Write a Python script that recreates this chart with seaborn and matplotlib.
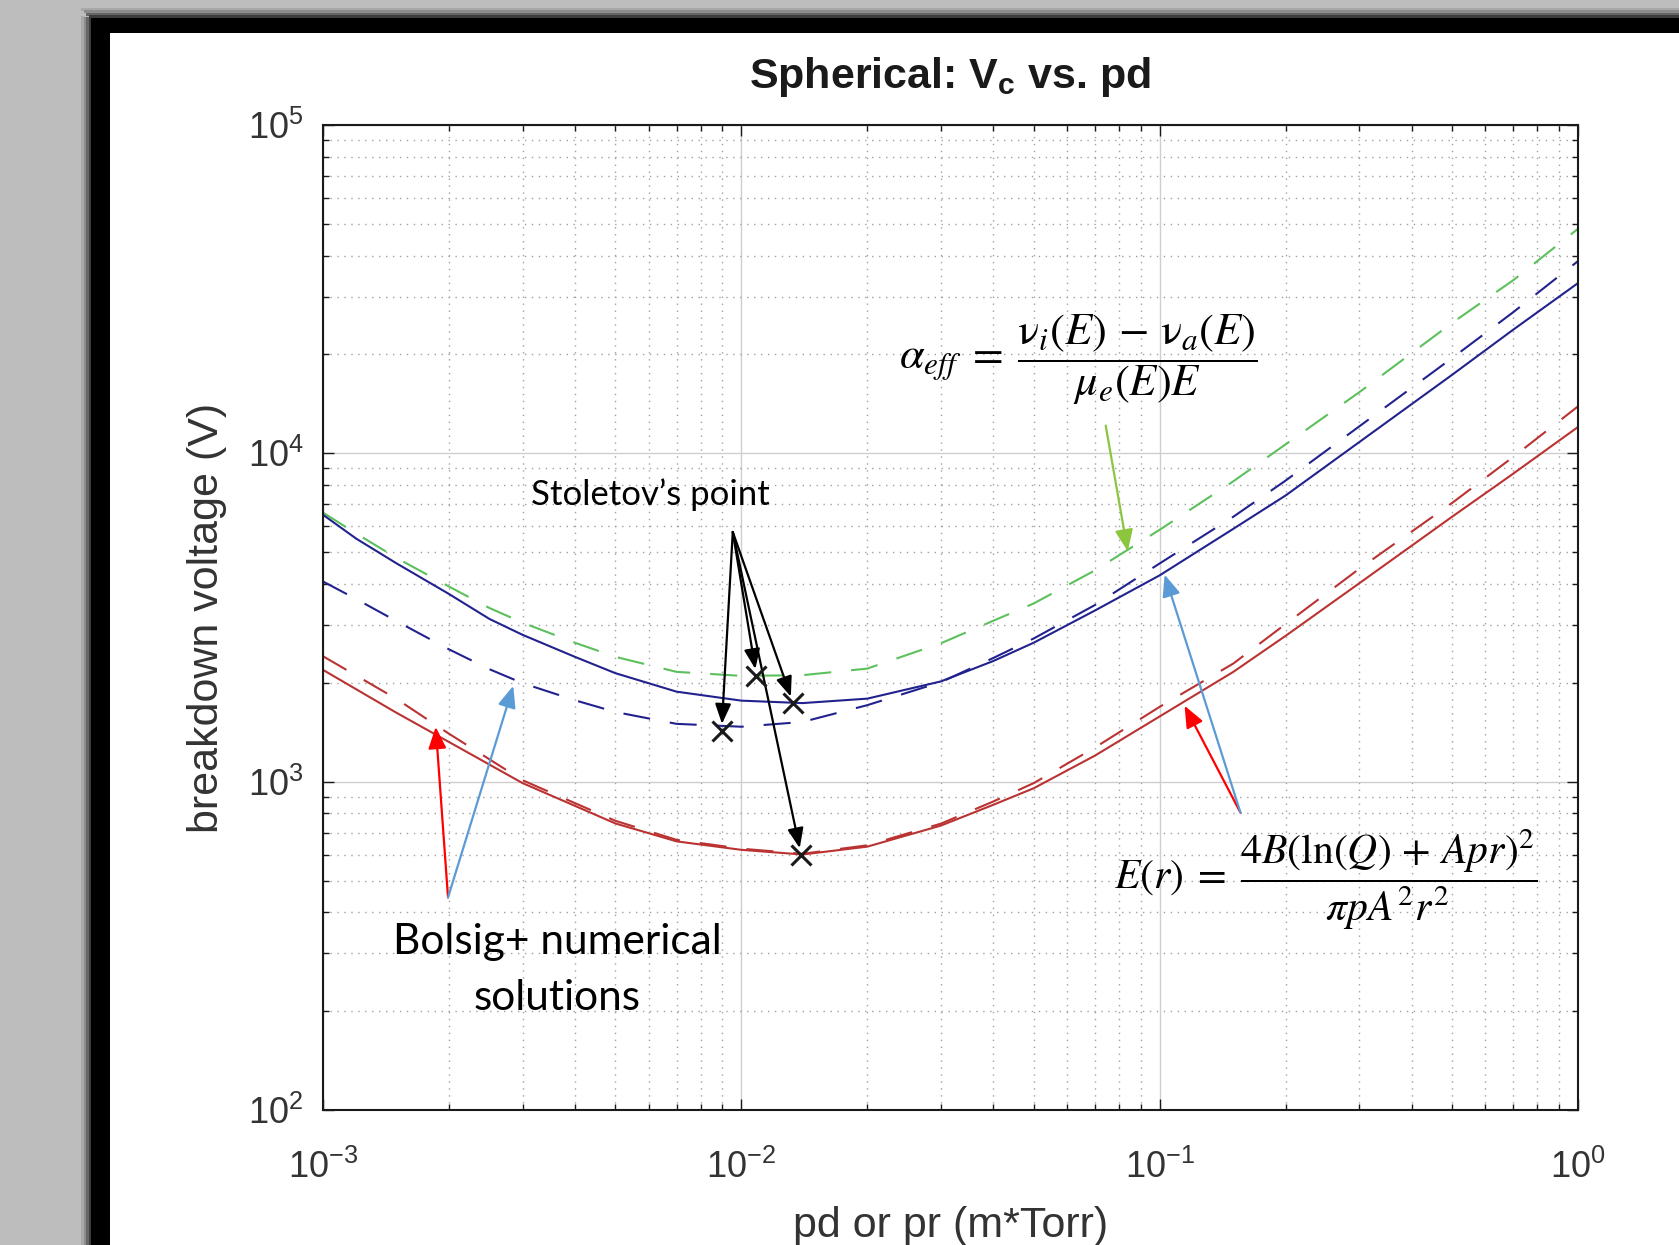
import numpy as np
import seaborn as sns
import matplotlib.pyplot as plt
from matplotlib.patches import Rectangle
from matplotlib.ticker import LogLocator, FuncFormatter, NullFormatter

pd_bg = [0.001, 0.0012, 0.0015, 0.002, 0.0025, 0.003, 0.004, 0.005, 0.007, 0.01,
         0.014, 0.02, 0.03, 0.04, 0.05, 0.07, 0.1, 0.15, 0.2, 0.3, 0.5, 0.7, 1.0]
# breakdown voltage (V)
blue_solid = [6500, 5500, 4620, 3730, 3130, 2800, 2400, 2140, 1880, 1765,
              1735, 1790, 2020, 2330, 2650, 3320, 4250, 5890, 7440, 10820,
              17340, 23800, 33000]
blue_dash = [4070, 3600, 3080, 2530, 2200, 1995, 1770, 1630, 1500, 1470,
             1520, 1710, 2010, 2380, 2730, 3450, 4620, 6410, 8260, 12080,
             19500, 26900, 38500]
green_dash = [6600, 5700, 4800, 3930, 3380, 3050, 2650, 2400, 2160, 2100,
              2110, 2210, 2640, 3090, 3490, 4400, 5850, 8220, 10650, 15350,
              24950, 33670, 48300]

pd_red = [0.001, 0.0015, 0.002, 0.003, 0.005, 0.007, 0.01, 0.014, 0.02, 0.03,
          0.04, 0.05, 0.07, 0.1, 0.15, 0.2, 0.3, 0.5, 0.7, 1.0]
red_solid = [2190, 1620, 1321, 990, 746, 658, 620, 600, 634, 735,
             850, 955, 1200, 1580, 2160, 2780, 4020, 6410, 8670, 12030]
red_dash = [2410, 1785, 1400, 1010, 760, 665, 625, 603, 640, 745,
            870, 990, 1270, 1690, 2290, 3020, 4450, 7060, 9750, 13900]

# Stoletov's points (minimum of each curve)
stol_x = [0.00897, 0.01087, 0.0133, 0.0139]
stol_y = [1429, 2100, 1734, 598]

# annotation anchors, in data units
stol_from = (0.00954, 5760)
bolsig_from = (0.00199, 444)
bolsig_red_tip = (0.00186, 1468)
bolsig_blue_tip = (0.00285, 1958)
alpha_from = (0.0743, 12150)
alpha_tip = (0.0839, 5030)
er_from = (0.156, 805)
er_red_tip = (0.1147, 1703)
er_blue_tip = (0.1028, 4270)

W, H = 1679, 1245


def fx(px):
    return px / W


def fy(py):
    return 1 - py / H


def main():
    sns.set_style("ticks")
    plt.rcParams['font.family'] = ['Liberation Sans', 'DejaVu Sans']
    plt.rcParams['mathtext.fontset'] = 'custom'
    plt.rcParams['mathtext.rm'] = 'Liberation Sans'
    plt.rcParams['mathtext.bf'] = 'Liberation Sans:bold'
    plt.rcParams['mathtext.it'] = 'Liberation Sans:italic'

    fig = plt.figure(figsize=(W / 100, H / 100), dpi=100)
    fig.patch.set_facecolor('white')

    # screenshot window frame
    fig.add_artist(Rectangle((0, 0), fx(91), 1, transform=fig.transFigure,
                             color='#bdbdbd', lw=0, zorder=-5))
    fig.add_artist(Rectangle((0, fy(16)), 1, 16 / H, transform=fig.transFigure,
                             color='#bdbdbd', lw=0, zorder=-5))
    shades = ['#a8a8a8', '#8c8c8c', '#666666', '#3c3c3c']
    for i, c in enumerate(shades):
        fig.add_artist(Rectangle((fx(81 + 2.5 * i), 0), fx(2.5), fy(16 + i * 0.5),
                                 transform=fig.transFigure, color=c, lw=0, zorder=-4))
        fig.add_artist(Rectangle((fx(81 + 2.5 * i), fy(8 + 2.5 * i + 2.5)), 1, 2.5 / H,
                                 transform=fig.transFigure, color=c, lw=0, zorder=-4))
    fig.add_artist(Rectangle((fx(91), 0), fx(19), fy(18), transform=fig.transFigure,
                             color='black', lw=0, zorder=-3))
    fig.add_artist(Rectangle((fx(91), fy(33)), 1, 15 / H, transform=fig.transFigure,
                             color='black', lw=0, zorder=-3))

    ax = fig.add_axes([fx(323), fy(1110), (1578 - 323) / W, (1110 - 125) / H])
    ax.set_facecolor('white')
    ax.set_xscale('log')
    ax.set_yscale('log')

    lw = 1.5
    dash = (0, (13, 9.6))
    sns.lineplot(x=pd_bg, y=green_dash, ax=ax, color='#5cc05c', lw=lw, linestyle=dash)
    sns.lineplot(x=pd_bg, y=blue_dash, ax=ax, color='#22228f', lw=lw, linestyle=dash)
    sns.lineplot(x=pd_bg, y=blue_solid, ax=ax, color='#22228f', lw=lw)
    sns.lineplot(x=pd_red, y=red_dash, ax=ax, color='#bb3232', lw=lw, linestyle=dash)
    sns.lineplot(x=pd_red, y=red_solid, ax=ax, color='#bb3232', lw=lw)
    ax.plot(stol_x, stol_y, linestyle='none', marker='x', ms=14, mew=2.2,
            color='#1a1a1a', zorder=5)

    ax.set_xlim(1e-3, 1)
    ax.set_ylim(1e2, 1e5)

    ax.xaxis.set_major_locator(LogLocator(base=10, numticks=10))
    ax.yaxis.set_major_locator(LogLocator(base=10, numticks=10))
    ax.xaxis.set_minor_locator(LogLocator(base=10, subs=np.arange(2, 10), numticks=20))
    ax.yaxis.set_minor_locator(LogLocator(base=10, subs=np.arange(2, 10), numticks=20))
    fmt = FuncFormatter(lambda v, p: r'$\mathregular{10^{%d}}$' % round(np.log10(v)))
    ax.xaxis.set_major_formatter(fmt)
    ax.yaxis.set_major_formatter(fmt)
    ax.xaxis.set_minor_formatter(NullFormatter())
    ax.yaxis.set_minor_formatter(NullFormatter())

    ax.grid(True, which='major', color='#cfcfcf', lw=1.0, ls='-')
    ax.grid(True, which='minor', color='#a0a0a0', lw=1.0, ls=(0, (1, 4)))
    ax.set_axisbelow(True)

    ax.tick_params(which='both', direction='in', top=True, right=True,
                   color='#1a1a1a', width=1.0)
    ax.tick_params(which='major', length=8, labelsize=26, labelcolor='#333333')
    ax.tick_params(which='minor', length=4)
    ax.tick_params(axis='x', which='major', pad=29)
    ax.tick_params(axis='y', which='major', pad=14)
    for s in ax.spines.values():
        s.set_visible(True)
        s.set_color('#1a1a1a')
        s.set_linewidth(1.5)

    ax.set_xlabel('pd or pr (m*Torr)', fontsize=31, color='#333333')
    ax.set_ylabel('breakdown voltage (V)', fontsize=31, color='#333333')
    ax.xaxis.set_label_coords(0.5, -0.097)
    ax.yaxis.set_label_coords(-0.0765, 0.5)
    ax.xaxis.label.set_va('top')

    fig.text(fx(950), fy(88), r'Spherical: $\mathbf{V_c}$ vs. pd', fontsize=31,
             fontweight='bold', color='#1a1a1a', ha='center', va='baseline')

    # Stoletov's point
    fig.text(fx(650), fy(495), 'Stoletov\u2019s point', family=['Lato', 'DejaVu Sans'],
             fontsize=25, ha='center', va='center', color='black')
    for sx, sy in zip(stol_x, stol_y):
        ax.annotate('', xy=(sx, sy), xytext=stol_from,
                    arrowprops=dict(arrowstyle='-|>,head_length=0.55,head_width=0.22',
                                    color='black', lw=1.6, mutation_scale=22,
                                    shrinkA=0, shrinkB=5))

    # Bolsig+ label
    fig.text(fx(557), fy(942), 'Bolsig+ numerical', family=['Lato', 'DejaVu Sans'],
             fontsize=30.5, ha='center', va='center', color='black')
    fig.text(fx(557), fy(998), 'solutions', family=['Lato', 'DejaVu Sans'],
             fontsize=30.5, ha='center', va='center', color='black')
    for tip, col in [(bolsig_red_tip, '#ff0000'), (bolsig_blue_tip, '#5b9bd5')]:
        ax.annotate('', xy=tip, xytext=bolsig_from,
                    arrowprops=dict(arrowstyle='-|>,head_length=0.6,head_width=0.25',
                                    color=col, lw=1.6, mutation_scale=22,
                                    shrinkA=0, shrinkB=0))

    # effective ionisation coefficient formula
    fig.text(fx(899), fy(360),
             r'$\alpha_{eff}\;=\;\dfrac{\mathrm{\nu}_i(E)\,-\,\mathrm{\nu}_a(E)}{\mu_e(E)E}$',
             math_fontfamily='stix', fontsize=32, ha='left', va='center', color='black')
    ax.annotate('', xy=alpha_tip, xytext=alpha_from,
                arrowprops=dict(arrowstyle='-|>,head_length=0.6,head_width=0.25',
                                color='#8cc63f', lw=1.6, mutation_scale=22,
                                shrinkA=0, shrinkB=0))

    # field formula
    fig.text(fx(1114), fy(880),
             r'$E(r)\;=\;\dfrac{4B(\ln(Q)\,+\,Apr)^2}{\pi p A^2 r^2}$',
             math_fontfamily='stix', fontsize=30, ha='left', va='center', color='black')
    for tip, col in [(er_red_tip, '#ff0000'), (er_blue_tip, '#5b9bd5')]:
        ax.annotate('', xy=tip, xytext=er_from,
                    arrowprops=dict(arrowstyle='-|>,head_length=0.6,head_width=0.25',
                                    color=col, lw=1.6, mutation_scale=22,
                                    shrinkA=0, shrinkB=0))

    fig.savefig('out.png', dpi=100)


main()
